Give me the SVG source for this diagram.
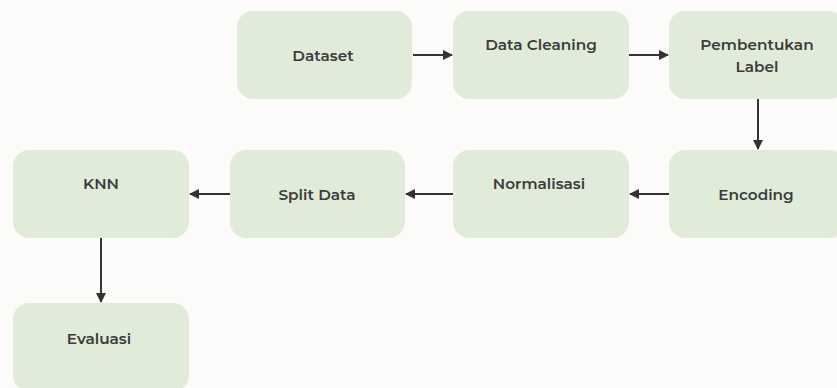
<svg xmlns="http://www.w3.org/2000/svg" width="837" height="388" viewBox="0 0 837 388">
<defs>
<style>
.box{fill:#e0ecd9;}
.t{font-family:"Montserrat","Open Sans","Liberation Sans",sans-serif;font-weight:600;font-size:15.3px;fill:#3b3b3b;text-anchor:middle;dominant-baseline:central;}
.c{stroke:#333333;stroke-width:2;fill:none;marker-end:url(#ah);}
</style>
<marker id="ah" viewBox="0 0 10 10" refX="9" refY="5" markerWidth="5" markerHeight="5" orient="auto" markerUnits="strokeWidth">
<path d="M0,0 L10,5 L0,10 z" fill="#333333"/>
</marker>
</defs>
<rect width="837" height="388" fill="#fdfbf9"/>
<g id="connectors">
<line class="c" x1="413" y1="55" x2="452" y2="55"/>
<line class="c" x1="629" y1="55" x2="668" y2="55"/>
<line class="c" x1="758" y1="99" x2="758" y2="149"/>
<line class="c" x1="669" y1="194" x2="630" y2="194"/>
<line class="c" x1="453" y1="194" x2="406" y2="194"/>
<line class="c" x1="230" y1="194" x2="190" y2="194"/>
<line class="c" x1="101" y1="238" x2="101" y2="302"/>
</g>
<g id="dataset"><rect class="box" x="237" y="11" width="175" height="88" rx="16"/><text class="t" x="323" y="55">Dataset</text></g>
<g id="data-cleaning"><rect class="box" x="453" y="11" width="176" height="88" rx="16"/><text class="t" x="541" y="44">Data Cleaning</text></g>
<g id="pembentukan-label"><rect class="box" x="669" y="11" width="176" height="88" rx="16"/><text class="t" x="757" y="44">Pembentukan</text><text class="t" x="757" y="66">Label</text></g>
<g id="encoding"><rect class="box" x="669" y="150" width="176" height="88" rx="16"/><text class="t" x="756" y="194">Encoding</text></g>
<g id="normalisasi"><rect class="box" x="453" y="150" width="176" height="88" rx="16"/><text class="t" x="539" y="183">Normalisasi</text></g>
<g id="split-data"><rect class="box" x="230" y="150" width="175" height="88" rx="16"/><text class="t" x="317" y="194">Split Data</text></g>
<g id="knn"><rect class="box" x="13" y="150" width="176" height="88" rx="16"/><text class="t" x="101" y="183">KNN</text></g>
<g id="evaluasi"><rect class="box" x="13" y="303" width="176" height="88" rx="16"/><text class="t" x="99" y="338">Evaluasi</text></g>
</svg>
